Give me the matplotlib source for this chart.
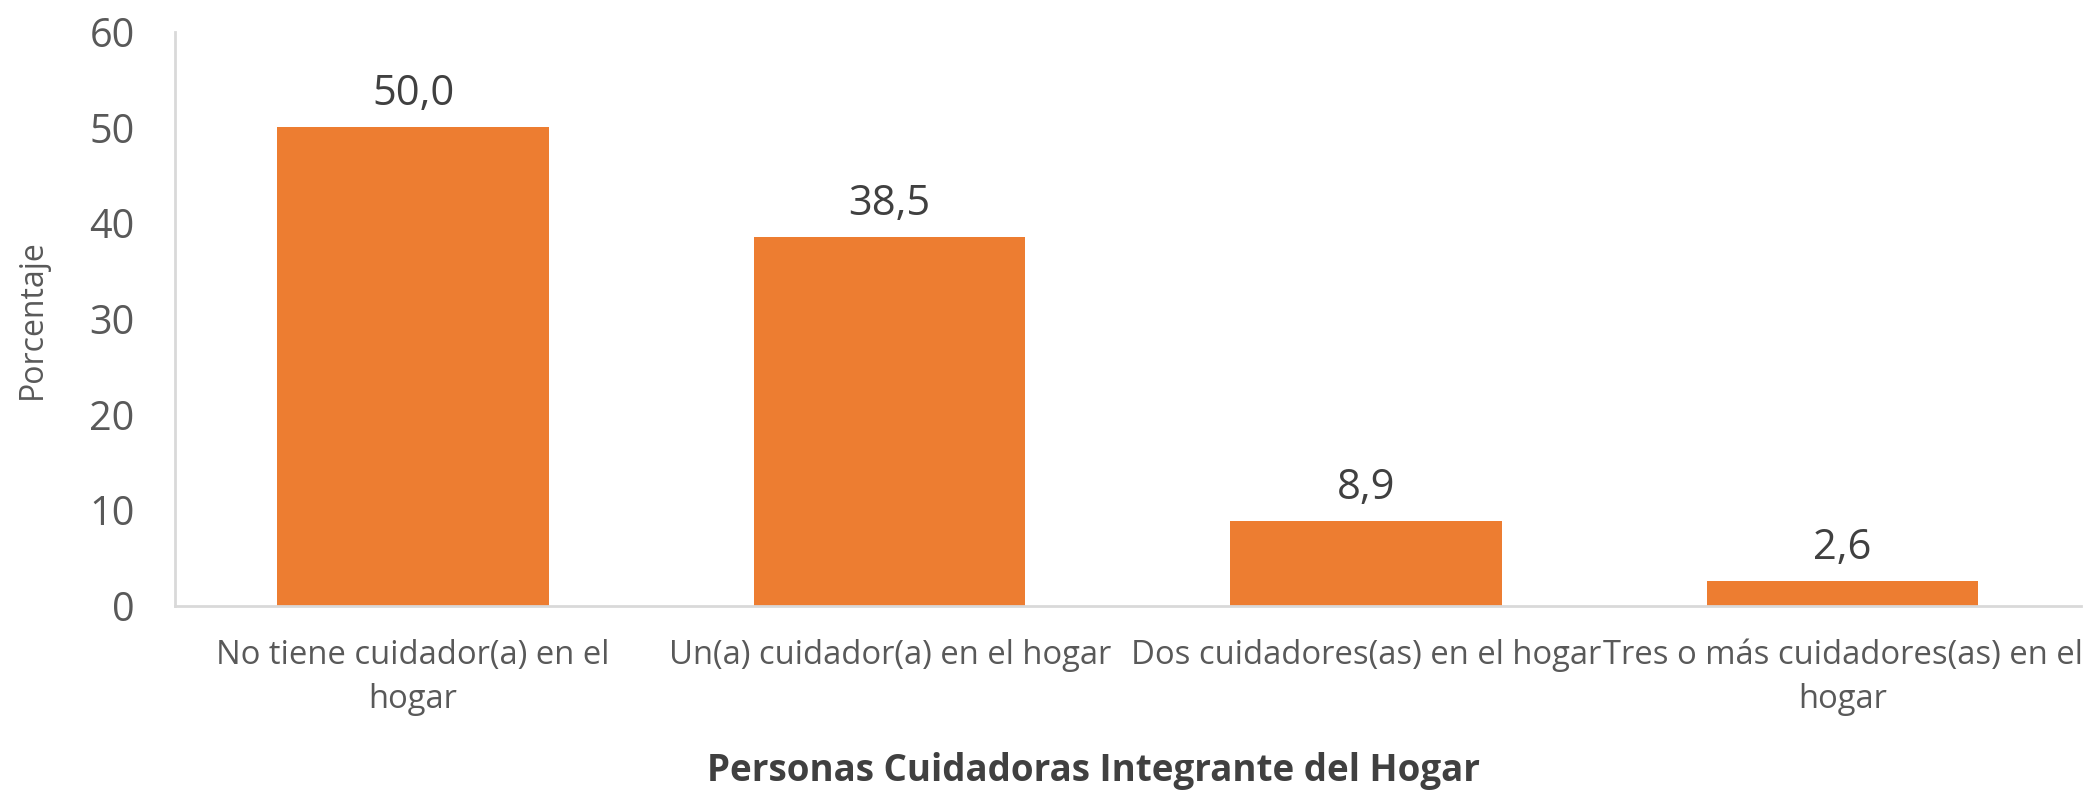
import matplotlib
matplotlib.use("Agg")
import matplotlib.pyplot as plt

categories = ["No tiene cuidador(a) en el\nhogar",
              "Un(a) cuidador(a) en el hogar",
              "Dos cuidadores(as) en el hogar",
              "Tres o más cuidadores(as) en el\nhogar"]
values = [50.0, 38.5, 8.9, 2.6]
value_labels = ["50,0", "38,5", "8,9", "2,6"]
yticks = [0, 10, 20, 30, 40, 50, 60]

plt.rcParams['font.family'] = ['Open Sans', 'DejaVu Sans']
txt = '#595959'
fig = plt.figure(figsize=(20.85, 7.92), dpi=100)
ax = fig.add_axes([0.0839, 0.235, 0.9141, 0.725])
x = list(range(len(categories)))
bars = ax.bar(x, values, width=0.57, color='#ED7D31')
ax.set_xlim(-0.5, len(categories) - 0.5)
ax.set_ylim(0, 60)
ax.set_yticks(yticks)
ax.set_yticklabels([str(t) for t in yticks], fontsize=28.5, color=txt)
ax.set_xticks(x)
ax.set_xticklabels(categories, fontsize=23.6, color=txt, linespacing=1.42)
ax.tick_params(axis='both', length=0)
ax.tick_params(axis='y', pad=29)
ax.tick_params(axis='x', pad=24)
for s in ['top', 'right']:
    ax.spines[s].set_visible(False)
for s in ['left', 'bottom']:
    ax.spines[s].set_color('#d9d9d9')
    ax.spines[s].set_linewidth(2)
for b, lab in zip(bars, value_labels):
    ax.annotate(lab, (b.get_x() + b.get_width() / 2, b.get_height()),
                xytext=(0, 12), textcoords='offset pixels',
                ha='center', va='bottom', fontsize=30, color='#404040')
ax.set_ylabel("Porcentaje", fontsize=23, color=txt)
ax.yaxis.set_label_coords(-0.066, 0.5)
fig.text(0.5246, 0.027, "Personas Cuidadoras Integrante del Hogar", ha='center',
         va='center', fontsize=26.5, fontweight='bold', color='#404040')
fig.savefig("out.png", dpi=100)
